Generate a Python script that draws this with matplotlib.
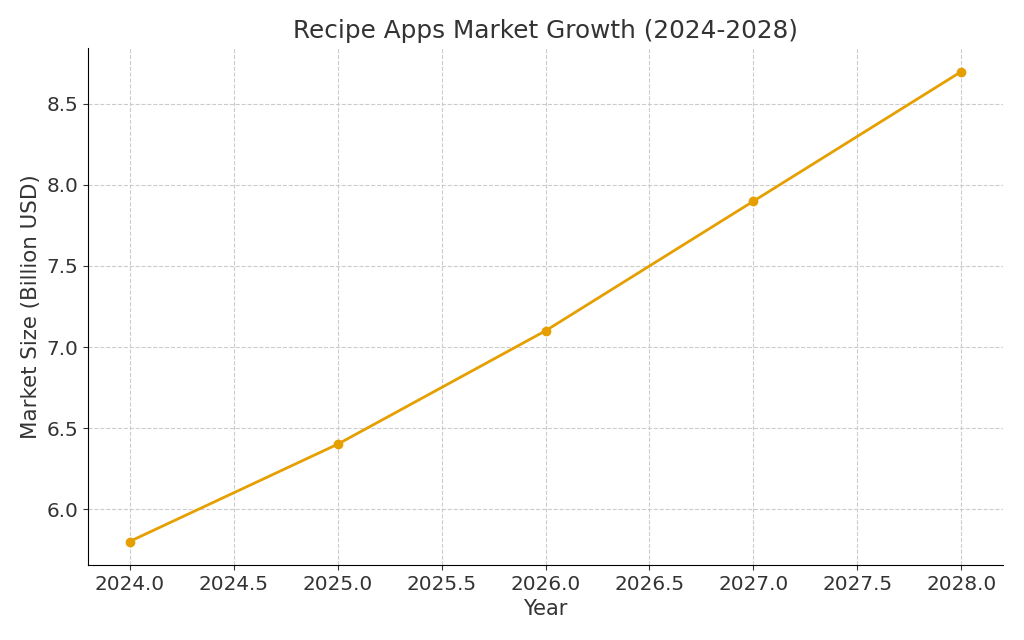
import matplotlib
matplotlib.use("Agg")
import matplotlib.pyplot as plt

years = [2024, 2025, 2026, 2027, 2028]
market_size = [5.8, 6.4, 7.1, 7.9, 8.7]

plt.rcParams['font.family'] = ['DejaVu Sans']
fig = plt.figure(figsize=(10.24, 6.4), dpi=100)
ax = fig.add_axes([88/1024, 1-565/640, (1003-88)/1024, (565-48)/640])
ax.plot(years, market_size, color='#E69F00', marker='o', linewidth=2, markersize=6)
ax.set_title('Recipe Apps Market Growth (2024-2028)', fontsize=17.8, color='#333333', pad=7)
ax.set_xlabel('Year', fontsize=15, color='#333333')
ax.set_ylabel('Market Size (Billion USD)', fontsize=15.4, color='#333333')
ax.tick_params(labelsize=14.4, colors='#333333')
ax.grid(True, linestyle='--', color='#cccccc', linewidth=0.8)
for s in ['top', 'right']:
    ax.spines[s].set_visible(False)
fig.savefig('out.png', dpi=100)
